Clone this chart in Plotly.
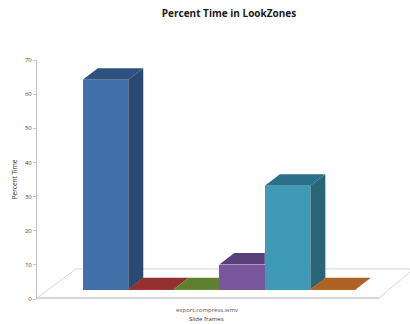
import plotly.graph_objects as go

# Chart content
title_text = "Percent Time in LookZones"
category_label = "export.compress.wmv"
x_title = "Slide frames"
y_title = "Percent Time"
series_names = ["Zone 1", "Zone 2", "Zone 3", "Zone 4", "Zone 5", "Zone 6"]
percent_values = [61.4, 0.1, 0.1, 7.3, 30.4, 0.1]
y_ticks = [0, 10, 20, 30, 40, 50, 60, 70]

# Face colours per series
front_colors = ["#4170A8", "#A63A38", "#6F9239", "#7A579C", "#3E9AB5", "#C4712B"]
top_colors = ["#2E5180", "#932F2E", "#5F8031", "#593E7C", "#2A7088", "#AF6224"]
side_colors = ["#2B4A72", "#7F2827", "#4F6C29", "#4D3569", "#286577", "#8F5020"]

# Pseudo-3D projection, in axis units
depth_x = 0.33
depth_y = 3.37
floor_level = 2.78
bar_width = 1.0

fig = go.Figure()

# Front faces
fig.add_trace(go.Bar(x=list(range(len(percent_values))), y=percent_values,
                     base=floor_level, width=bar_width, marker=dict(color=front_colors, line_width=0),
                     hovertext=series_names, showlegend=False))

# Top and side faces, cut where the next column's front hides them
for i, value in enumerate(percent_values):
    left, right = i - bar_width / 2, i + bar_width / 2
    top = floor_level + value
    next_taller = i + 1 < len(percent_values) and percent_values[i + 1] > value
    if next_taller:
        top_x = [left, right, right, left + depth_x, left]
    else:
        top_x = [left, right, right + depth_x, left + depth_x, left]
    top_y = [top, top, top + depth_y, top + depth_y, top]
    fig.add_trace(go.Scatter(x=top_x, y=top_y, mode="lines", fill="toself",
                             fillcolor=top_colors[i], line_width=0,
                             hoverinfo="skip", showlegend=False))
    if not next_taller and value > 1:
        side_x = [right, right + depth_x, right + depth_x, right, right]
        side_y = [floor_level, floor_level + depth_y, top + depth_y, top, floor_level]
        fig.add_trace(go.Scatter(x=side_x, y=side_y, mode="lines", fill="toself",
                                 fillcolor=side_colors[i], line_width=0,
                                 hoverinfo="skip", showlegend=False))

# Floor outline sits on a layer beneath the columns
floor_path = "M -1.505 0.3 L -0.65 8.8 L 6.69 8.8 M 6.69 7.9 L 6.01 0.3"
floor_front = "M -1.505 0.3 L 6.01 0.3"

fig.add_annotation(text=category_label, x=2.22, xref="x", y=0, yref="paper", yshift=-17,
                   showarrow=False, font=dict(size=6, color="#555555"))
fig.add_annotation(text=x_title, x=2.22, xref="x", y=0, yref="paper", yshift=-26,
                   showarrow=False, font=dict(size=6, color="#333333"))

fig.update_layout(
    width=410, height=324,
    margin=dict(l=37, r=0, t=60, b=25),
    paper_bgcolor="white", plot_bgcolor="white",
    font=dict(family="Open Sans"),
    title=dict(text=f"<b>{title_text}</b>", x=0.5585, xanchor="center", y=0.957, yanchor="middle",
               font=dict(size=10, color="#1A1A1A", family="Open Sans")),
    xaxis=dict(range=[-1.505, 6.69], showticklabels=False, showgrid=False, zeroline=False,
               showline=False, ticks=""),
    yaxis=dict(range=[0, 70], tickvals=y_ticks, showgrid=False, zeroline=False, showline=True,
               linecolor="#C4C4C4", ticks="outside", ticklen=3, tickcolor="#C4C4C4",
               tickfont=dict(size=6, color="#444444"),
               title=dict(text=y_title, font=dict(size=6.5, color="#333333"), standoff=6)),
    bargap=0,
    shapes=[
        dict(type="path", path=floor_path, layer="below", line=dict(color="#D4D4D4", width=1)),
        dict(type="path", path=floor_front, layer="below", line=dict(color="#C8C8C8", width=1.5)),
    ],
)
fig.write_html("out.html")
